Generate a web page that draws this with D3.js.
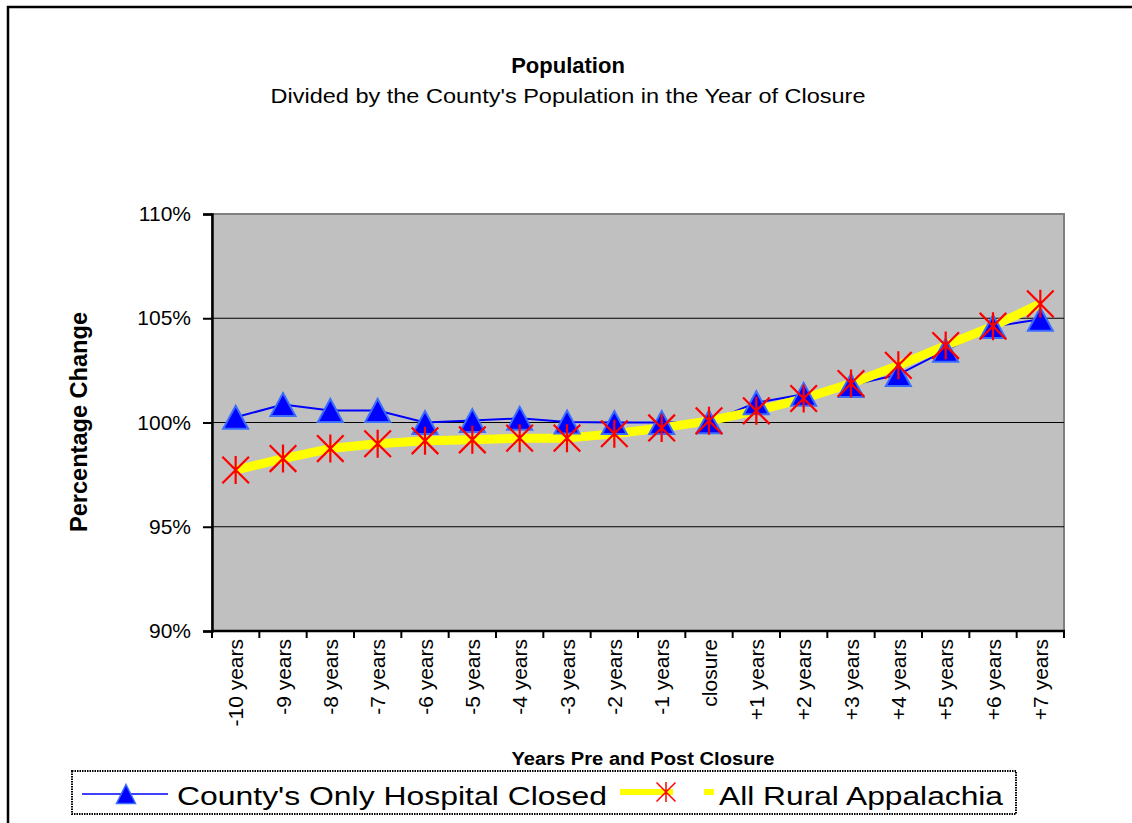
<!DOCTYPE html>
<html>
<head>
<meta charset="utf-8">
<script src="https://cdn.jsdelivr.net/npm/d3@7"></script>
<style>
  html, body { margin: 0; padding: 0; background: #ffffff; }
  svg { display: block; font-family: Arial, "Liberation Sans", sans-serif; }
</style>
</head>
<body>
<div id="chart"></div>
<script>
// chart data
const categories = [
    '-10 years', '-9 years', '-8 years', '-7 years', '-6 years', '-5 years',
    '-4 years', '-3 years', '-2 years', '-1 years', 'closure', '+1 years',
    '+2 years', '+3 years', '+4 years', '+5 years', '+6 years', '+7 years'
];
const countyValues = [
    100.25, 100.86, 100.58, 100.58, 100.0, 100.09,
    100.2, 100.02, 100.0, 100.0, 100.03, 100.95,
    101.35, 101.78, 102.3, 103.46, 104.6, 104.95
];
const appalachiaValues = [
    97.72, 98.27, 98.75, 98.98, 99.12, 99.17,
    99.25, 99.25, 99.46, 99.74, 100.08, 100.56,
    101.15, 101.87, 102.74, 103.69, 104.62, 105.69
];
const yTicks = [90, 95, 100, 105, 110];
const seriesNames = ["County's Only Hospital Closed", 'All Rural Appalachia'];

const W = 1132, H = 823;
const plot = { left: 212, right: 1064, top: 214, bottom: 631 };

const svg = d3.select('#chart')
    .append('svg')
    .attr('width', W)
    .attr('height', H);

// outer chart border (runs off the right and bottom edge)
svg.append('rect')
    .attr('x', 8).attr('y', 7)
    .attr('width', 1300).attr('height', 1000)
    .attr('fill', '#ffffff')
    .attr('stroke', '#000000')
    .attr('stroke-width', 2.5);

// scales
const xScale = d3.scaleBand()
    .domain(categories)
    .range([plot.left, plot.right])
    .padding(0);
const xMid = d => xScale(d) + xScale.bandwidth() / 2;

const yScale = d3.scaleLinear()
    .domain([90, 110])
    .range([plot.bottom, plot.top]);

// plot area
svg.append('rect')
    .attr('x', plot.left).attr('y', plot.top)
    .attr('width', plot.right - plot.left)
    .attr('height', plot.bottom - plot.top)
    .attr('fill', '#c0c0c0')
    .attr('stroke', '#808080')
    .attr('stroke-width', 2);

// gridlines
svg.append('g')
    .selectAll('line')
    .data(yTicks.filter(d => d > 90 && d < 110))
    .enter()
    .append('line')
    .attr('x1', plot.left).attr('x2', plot.right)
    .attr('y1', d => yScale(d)).attr('y2', d => yScale(d))
    .attr('stroke', '#000000')
    .attr('stroke-width', 1);

// y axis
const yAxis = d3.axisLeft(yScale)
    .tickValues(yTicks)
    .tickSize(9)
    .tickPadding(12)
    .tickFormat(d => d + '%');

const yG = svg.append('g')
    .attr('transform', `translate(${plot.left},0)`)
    .call(yAxis);
yG.select('.domain').attr('stroke', '#000').attr('stroke-width', 2.5);
yG.selectAll('.tick line').attr('stroke', '#000').attr('stroke-width', 2);
yG.selectAll('.tick text')
    .style('font-size', '21px')
    .attr('fill', '#000');

// x axis: labels at category centres, ticks between categories
const xAxis = d3.axisBottom(xScale).tickSize(0).tickPadding(0);
const xG = svg.append('g')
    .attr('transform', `translate(0,${plot.bottom})`)
    .call(xAxis);
xG.select('.domain').remove();
xG.selectAll('.tick text')
    .style('font-size', '21px')
    .attr('fill', '#000')
    .attr('text-anchor', 'end')
    .attr('transform', 'rotate(-90)')
    .attr('x', -8)
    .attr('y', 0)
    .attr('dy', '0.36em');

svg.append('line')
    .attr('x1', plot.left - 1).attr('x2', plot.right + 1)
    .attr('y1', plot.bottom).attr('y2', plot.bottom)
    .attr('stroke', '#000').attr('stroke-width', 2.5);

const boundaries = categories.map(d => xScale(d)).concat([plot.right]);
svg.append('g')
    .selectAll('line')
    .data(boundaries)
    .enter()
    .append('line')
    .attr('x1', d => d).attr('x2', d => d)
    .attr('y1', plot.bottom).attr('y2', plot.bottom + 7)
    .attr('stroke', '#000').attr('stroke-width', 2);

// series lines
const line = d3.line()
    .x((d, i) => xMid(categories[i]))
    .y(d => yScale(d));

svg.append('path')
    .datum(countyValues)
    .attr('d', line)
    .attr('fill', 'none')
    .attr('stroke', '#0000ff')
    .attr('stroke-width', 2);

svg.append('path')
    .datum(appalachiaValues)
    .attr('d', line)
    .attr('fill', 'none')
    .attr('stroke', '#ffff00')
    .attr('stroke-width', 9)
    .attr('stroke-linejoin', 'round');

// markers
function trianglePath(hw, hh) {
    return `M0,${-hh}L${hw},${hh}L${-hw},${hh}Z`;
}
function starPath(r) {
    const d = r * 0.95;
    return `M0,${-r}L0,${r}M${-d},${-d}L${d},${d}M${d},${-d}L${-d},${d}`;
}

svg.append('g')
    .selectAll('path')
    .data(countyValues)
    .enter()
    .append('path')
    .attr('transform', (d, i) => `translate(${xMid(categories[i])},${yScale(d)})`)
    .attr('d', trianglePath(12.5, 11.5))
    .attr('fill', '#0000ff')
    .attr('stroke', '#3a6dff')
    .attr('stroke-width', 2)
    .attr('stroke-linejoin', 'miter');

svg.append('g')
    .selectAll('path')
    .data(appalachiaValues)
    .enter()
    .append('path')
    .attr('transform', (d, i) => `translate(${xMid(categories[i])},${yScale(d)})`)
    .attr('d', starPath(14))
    .attr('fill', 'none')
    .attr('stroke', '#ff0000')
    .attr('stroke-width', 2.2);

// titles
svg.append('text')
    .attr('x', 568).attr('y', 73)
    .attr('text-anchor', 'middle')
    .style('font-size', '22px')
    .style('font-weight', 'bold')
    .text('Population');

svg.append('text')
    .attr('x', 568).attr('y', 103)
    .attr('text-anchor', 'middle')
    .style('font-size', '20px')
    .attr('textLength', 595)
    .attr('lengthAdjust', 'spacingAndGlyphs')
    .text("Divided by the County's Population in the Year of Closure");

svg.append('text')
    .attr('transform', 'translate(87,422) rotate(-90)')
    .attr('text-anchor', 'middle')
    .style('font-size', '23px')
    .style('font-weight', 'bold')
    .attr('textLength', 220)
    .attr('lengthAdjust', 'spacingAndGlyphs')
    .text('Percentage Change');

svg.append('text')
    .attr('x', 643).attr('y', 765)
    .attr('text-anchor', 'middle')
    .style('font-size', '18px')
    .style('font-weight', 'bold')
    .attr('textLength', 263)
    .attr('lengthAdjust', 'spacingAndGlyphs')
    .text('Years Pre and Post Closure');

// legend
const legend = svg.append('g');
legend.append('rect')
    .attr('x', 72).attr('y', 771)
    .attr('width', 944).attr('height', 43)
    .attr('fill', '#ffffff')
    .attr('stroke', '#000000')
    .attr('stroke-width', 2)
    .attr('stroke-dasharray', '1.5,1');

legend.append('line')
    .attr('x1', 82).attr('x2', 168)
    .attr('y1', 794).attr('y2', 794)
    .attr('stroke', '#0000ff').attr('stroke-width', 1.5);
legend.append('path')
    .attr('transform', 'translate(126,794)')
    .attr('d', trianglePath(9.5, 9.5))
    .attr('fill', '#0000ff')
    .attr('stroke', '#3a6dff')
    .attr('stroke-width', 1.5);
legend.append('text')
    .attr('x', 177).attr('y', 805)
    .style('font-size', '25px')
    .attr('textLength', 430)
    .attr('lengthAdjust', 'spacingAndGlyphs')
    .text(seriesNames[0]);

legend.append('line')
    .attr('x1', 620).attr('x2', 673)
    .attr('y1', 792).attr('y2', 792)
    .attr('stroke', '#ffff00').attr('stroke-width', 6);
legend.append('path')
    .attr('transform', 'translate(666,792)')
    .attr('d', starPath(10))
    .attr('fill', 'none')
    .attr('stroke', '#ff0000')
    .attr('stroke-width', 1.5);
legend.append('rect')
    .attr('x', 704).attr('y', 789)
    .attr('width', 10).attr('height', 6)
    .attr('fill', '#ffff00');
legend.append('text')
    .attr('x', 719).attr('y', 805)
    .style('font-size', '25px')
    .attr('textLength', 284)
    .attr('lengthAdjust', 'spacingAndGlyphs')
    .text(seriesNames[1]);
</script>
</body>
</html>
